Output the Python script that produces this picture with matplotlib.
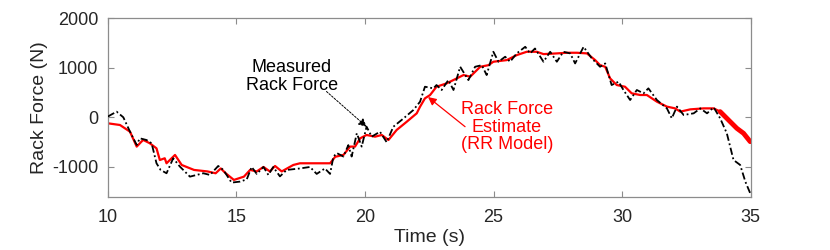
import matplotlib
matplotlib.use("Agg")
import matplotlib.pyplot as plt

plt.rcParams['font.family'] = ['Liberation Sans', 'DejaVu Sans']
plt.rcParams['axes.unicode_minus'] = False

meas_t = [10.0, 10.15, 10.34, 10.6, 10.86, 11.12, 11.24, 11.5, 11.7, 11.89, 12.05, 12.28, 12.54, 12.8,
          13.19, 13.71, 13.97, 14.29, 14.49, 14.81, 15.14, 15.4, 15.59, 15.79, 16.05, 16.24, 16.43,
          16.69, 16.95, 17.47, 17.86, 18.12, 18.44, 18.64, 18.77, 18.9, 19.16, 19.35, 19.48, 19.68,
          19.87, 20.06, 20.26, 20.58, 20.84, 21.1, 21.49, 21.88, 22.14, 22.33, 22.66, 22.78, 22.98,
          23.24, 23.44, 23.7, 24.02, 24.28, 24.54, 24.73, 24.99, 25.19, 25.45, 25.64, 25.9, 26.23,
          26.42, 26.61, 26.94, 27.2, 27.46, 27.71, 27.98, 28.17, 28.5, 28.82, 29.14, 29.34, 29.59,
          29.86, 30.05, 30.31, 30.57, 30.83, 31.02, 31.35, 31.74, 31.93, 32.13, 32.39, 32.78, 33.04,
          33.3, 33.56, 33.81, 34.07, 34.2, 34.33, 34.59, 34.79, 34.98]
meas_f = [15, 60, 113, 0, -290, -557, -423, -457, -523, -926, -1060, -1127, -825, -993,
          -1195, -1127, -1161, -980, -1060, -1315, -1295, -1250, -1000, -1140, -1000, -1160, -1000,
          -1190, -1060, -1030, -1000, -1140, -1030, -1140, -795, -720, -790, -560, -790, -322,
          -590, -189, -390, -290, -500, -190, -25, 147, 314, 616, 583, 650, 550,
          750, 550, 1018, 750, 1018, 1050, 851, 1320, 1119, 1220, 1119, 1287, 1420,
          1287, 1386, 1119, 1320, 1119, 1320, 1287, 1085, 1420, 1186, 1018, 1085, 650,
          717, 550, 348, 550, 483, 583, 348, 180, -20, 215, 47, 80, 180,
          80, 200, -20, -322, -590, -860, -960, -1295, -1530]

est_t = [10.0, 10.47, 10.86, 11.12, 11.37, 11.63, 11.89, 12.02, 12.21, 12.28, 12.61, 12.87, 13.35,
         13.87, 14.19, 14.39, 14.58, 14.9, 15.29, 15.53, 15.79, 16.05, 16.3, 16.5, 16.76, 17.21,
         17.47, 18.25, 18.64, 18.84, 19.16, 19.42, 19.61, 19.81, 20.06, 20.39, 20.65, 20.91, 21.23,
         21.62, 22.01, 22.14, 22.33, 22.53, 22.78, 23.17, 23.57, 23.83, 24.09, 24.48, 24.8, 24.99,
         25.51, 25.9, 26.29, 26.68, 26.94, 27.46, 27.85, 28.24, 28.63, 28.95, 29.14, 29.34, 29.53,
         29.79, 30.11, 30.37, 30.7, 30.96, 31.35, 31.74, 32.06, 32.26, 32.65, 33.17, 33.56, 33.81,
         34.2, 34.46, 34.72, 34.98]
est_f = [-121, -155, -290, -590, -455, -523, -625, -860, -825, -926, -758, -960, -1060,
         -1090, -1127, -1030, -1127, -1261, -1195, -1060, -1090, -1000, -1090, -980, -1090, -960,
         -926, -926, -926, -795, -758, -590, -590, -423, -356, -390, -356, -457, -255,
         -90, 80, 214, 382, 449, 616, 683, 784, 851, 818, 1018, 1050, 1119,
         1152, 1253, 1320, 1320, 1273, 1287, 1300, 1300, 1287, 1152, 1050, 1018, 784,
         650, 616, 483, 449, 449, 315, 215, 180, 114, 160, 180, 180, 114,
         -88, -222, -322, -490]

x_ticks = [10, 15, 20, 25, 30, 35]
y_ticks = [-1000, 0, 1000, 2000]

fig = plt.figure(figsize=(8.3, 2.5), dpi=100)
ax = fig.add_axes([0.130, 0.213, 0.7745, 0.715])

ax.plot(est_t, est_f, color='#ff0000', lw=1.6, solid_joinstyle='round', zorder=2)
# thicker end of the estimate trace
end_t = [t for t in est_t if t >= 33.81]
end_f = [f for t, f in zip(est_t, est_f) if t >= 33.81]
ax.plot(end_t, end_f, color='#ff0000', lw=3.5, solid_capstyle='round', zorder=2)
ax.plot(meas_t, meas_f, color='black', lw=1.3, linestyle=(0, (4, 1.5, 1, 1.5)), zorder=3)

ax.set_xlim(10, 35)
ax.set_ylim(-1600, 2000)
ax.set_xticks(x_ticks)
ax.set_yticks(y_ticks)
ax.tick_params(direction='in', top=True, right=True, labelsize=13, colors='#8c8c8c',
               labelcolor='#262626', length=4, width=0.8)
ax.tick_params(axis='x', pad=9)
ax.tick_params(axis='y', pad=7)
for s in ax.spines.values():
    s.set_color('#8c8c8c')
    s.set_linewidth(0.9)

ax.set_xlabel('Time (s)', fontsize=14, color='#262626', labelpad=2)
ax.set_ylabel('Rack Force (N)', fontsize=14, color='#262626', labelpad=3)

ax.annotate('', xy=(20.06, -190), xytext=(18.5, 520),
            arrowprops=dict(arrowstyle='-|>', color='black', lw=0.7, mutation_scale=12,
                            linestyle=(0, (2, 1.5)), shrinkA=0, shrinkB=0))
ax.text(17.16, 820, 'Measured\nRack Force', ha='center', va='center', fontsize=13,
        color='black', linespacing=1.05)

ax.annotate('', xy=(22.45, 408), xytext=(23.89, -189),
            arrowprops=dict(arrowstyle='-|>', color='#ff0000', lw=0.9, mutation_scale=12,
                            shrinkA=0, shrinkB=0))
ax.text(25.51, -197, 'Rack Force\nEstimate\n(RR Model)', ha='center', va='center', fontsize=13,
        color='#ff0000', linespacing=1.05)

fig.savefig('out.png', dpi=100)
